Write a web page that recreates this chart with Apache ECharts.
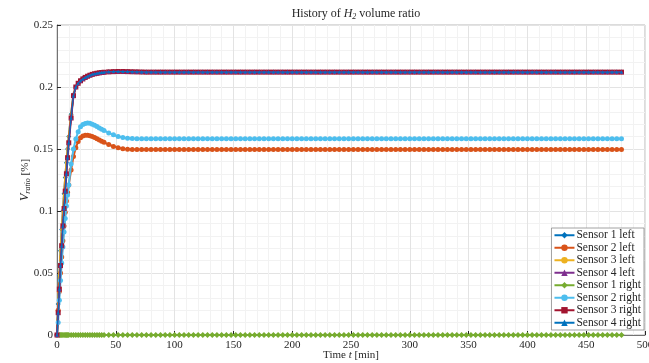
<!DOCTYPE html>
<html>
<head>
<meta charset="utf-8">
<script src="https://cdn.jsdelivr.net/npm/echarts@6/dist/echarts.min.js"></script>
<style>
  html, body { margin: 0; padding: 0; background: #fff; }
  #chart { width: 649px; height: 363px; }
</style>
</head>
<body>
<div id="chart"></div>
<script>
// time axis [min], dense at the start, every 4 min after 80
var riseTime = [0,1,2,3,4,5,6,7,8,9,10,12,14,16,18,20,22,24,26,28,30,32,34,36,38,40,44,48,52,56,60,64,68,72,76,80]
var tailTime = [84,88,92,96,100,104,108,112,116,120,124,128,132,136,140,144,148,152,156,160,
  164,168,172,176,180,184,188,192,196,200,204,208,212,216,220,224,228,232,236,240,
  244,248,252,256,260,264,268,272,276,280,284,288,292,296,300,304,308,312,316,320,
  324,328,332,336,340,344,348,352,356,360,364,368,372,376,380,384,388,392,396,400,
  404,408,412,416,420,424,428,432,436,440,444,448,452,456,460,464,468,472,476,480]

// rise part of each curve (same length as riseTime)
var upperRise = [0,0.018,0.037,0.056,0.072,0.088,0.102,0.116,0.13,0.143,0.155,0.175,0.193,0.2,0.203,0.205,0.2065,0.2077,0.2087,0.2095,
  0.2102,0.2107,0.2111,0.2114,0.2117,0.2119,0.2122,0.2124,0.2125,0.2125,0.2124,0.2123,0.2122,0.2121,0.212,0.212]
var upperFastRise = [0,0.025,0.048,0.068,0.085,0.1,0.114,0.127,0.139,0.15,0.16,0.178,0.194,0.2,0.203,0.2055,0.207,0.2079,0.2088,0.2095,
  0.2102,0.2107,0.2111,0.2114,0.2117,0.2119,0.2122,0.2124,0.2125,0.2125,0.2124,0.2123,0.2122,0.2121,0.212,0.212]
var orangeRise = [0,0.02,0.035,0.05,0.063,0.076,0.088,0.099,0.108,0.115,0.121,0.133,0.144,0.151,0.156,0.159,0.1605,0.161,0.161,0.1606,
  0.16,0.1592,0.1583,0.1573,0.1563,0.1554,0.1536,0.1521,0.151,0.1502,0.1497,0.1495,0.1495,0.1495,0.1495,0.1495]
var cyanRise = [0,0.01,0.028,0.044,0.058,0.071,0.083,0.094,0.104,0.113,0.121,0.138,0.15,0.158,0.164,0.168,0.1698,0.1706,0.171,0.1707,
  0.17,0.1691,0.1681,0.167,0.166,0.165,0.163,0.1614,0.1601,0.1592,0.1587,0.1584,0.1583,0.1582,0.1582,0.1582]
var greenRise = [null,null,0,0,0,0,0,0,0,0,0,0,0,0,0,0,0,0,0,0,0,0,0,0,0,0,0,0,0,0,0,0,0,0,0,0]

// plateau part (same length as tailTime)
var upperTail = [0.212,0.212,0.212,0.212,0.212,0.212,0.212,0.212,0.212,0.212,
  0.212,0.212,0.212,0.212,0.212,0.212,0.212,0.212,0.212,0.212,
  0.212,0.212,0.212,0.212,0.212,0.212,0.212,0.212,0.212,0.212,
  0.212,0.212,0.212,0.212,0.212,0.212,0.212,0.212,0.212,0.212,
  0.212,0.212,0.212,0.212,0.212,0.212,0.212,0.212,0.212,0.212,
  0.212,0.212,0.212,0.212,0.212,0.212,0.212,0.212,0.212,0.212,
  0.212,0.212,0.212,0.212,0.212,0.212,0.212,0.212,0.212,0.212,
  0.212,0.212,0.212,0.212,0.212,0.212,0.212,0.212,0.212,0.212,
  0.212,0.212,0.212,0.212,0.212,0.212,0.212,0.212,0.212,0.212,
  0.212,0.212,0.212,0.212,0.212,0.212,0.212,0.212,0.212,0.212]
var orangeTail = [0.1495,0.1495,0.1495,0.1495,0.1495,0.1495,0.1495,0.1495,0.1495,0.1495,
  0.1495,0.1495,0.1495,0.1495,0.1495,0.1495,0.1495,0.1495,0.1495,0.1495,
  0.1495,0.1495,0.1495,0.1495,0.1495,0.1495,0.1495,0.1495,0.1495,0.1495,
  0.1495,0.1495,0.1495,0.1495,0.1495,0.1495,0.1495,0.1495,0.1495,0.1495,
  0.1495,0.1495,0.1495,0.1495,0.1495,0.1495,0.1495,0.1495,0.1495,0.1495,
  0.1495,0.1495,0.1495,0.1495,0.1495,0.1495,0.1495,0.1495,0.1495,0.1495,
  0.1495,0.1495,0.1495,0.1495,0.1495,0.1495,0.1495,0.1495,0.1495,0.1495,
  0.1495,0.1495,0.1495,0.1495,0.1495,0.1495,0.1495,0.1495,0.1495,0.1495,
  0.1495,0.1495,0.1495,0.1495,0.1495,0.1495,0.1495,0.1495,0.1495,0.1495,
  0.1495,0.1495,0.1495,0.1495,0.1495,0.1495,0.1495,0.1495,0.1495,0.1495]
var cyanTail = [0.1582,0.1582,0.1582,0.1582,0.1582,0.1582,0.1582,0.1582,0.1582,0.1582,
  0.1582,0.1582,0.1582,0.1582,0.1582,0.1582,0.1582,0.1582,0.1582,0.1582,
  0.1582,0.1582,0.1582,0.1582,0.1582,0.1582,0.1582,0.1582,0.1582,0.1582,
  0.1582,0.1582,0.1582,0.1582,0.1582,0.1582,0.1582,0.1582,0.1582,0.1582,
  0.1582,0.1582,0.1582,0.1582,0.1582,0.1582,0.1582,0.1582,0.1582,0.1582,
  0.1582,0.1582,0.1582,0.1582,0.1582,0.1582,0.1582,0.1582,0.1582,0.1582,
  0.1582,0.1582,0.1582,0.1582,0.1582,0.1582,0.1582,0.1582,0.1582,0.1582,
  0.1582,0.1582,0.1582,0.1582,0.1582,0.1582,0.1582,0.1582,0.1582,0.1582,
  0.1582,0.1582,0.1582,0.1582,0.1582,0.1582,0.1582,0.1582,0.1582,0.1582,
  0.1582,0.1582,0.1582,0.1582,0.1582,0.1582,0.1582,0.1582,0.1582,0.1582]
var greenTail = [0,0,0,0,0,0,0,0,0,0, 0,0,0,0,0,0,0,0,0,0, 0,0,0,0,0,0,0,0,0,0, 0,0,0,0,0,0,0,0,0,0,
  0,0,0,0,0,0,0,0,0,0, 0,0,0,0,0,0,0,0,0,0, 0,0,0,0,0,0,0,0,0,0, 0,0,0,0,0,0,0,0,0,0,
  0,0,0,0,0,0,0,0,0,0, 0,0,0,0,0,0,0,0,0,0]

var sensorNames = ['Sensor 1 left', 'Sensor 2 left', 'Sensor 3 left', 'Sensor 4 left',
  'Sensor 1 right', 'Sensor 2 right', 'Sensor 3 right', 'Sensor 4 right']
var sensorColors = ['#0072BD', '#D95319', '#EDB120', '#7E2F8E', '#77AC30', '#4DBEEE', '#A2142F', '#0072BD']
var sensorSymbols = ['diamond', 'circle', 'circle', 'triangle', 'diamond', 'circle', 'rect', 'triangle']
var sensorSizes = [5, 5, 3, 4, 6, 5, 5, 3]
var sensorWidths = [2, 2, 2, 1.5, 2, 2, 2, 1]
var sensorZ = [2, 3, 4, 7, 5, 6, 6, 8]
var sensorCurves = [
  [upperFastRise, upperTail],
  [orangeRise, orangeTail],
  [upperFastRise, upperTail],
  [upperRise, upperTail],
  [greenRise, greenTail],
  [cyanRise, cyanTail],
  [upperRise, upperTail],
  [upperRise, upperTail]
]

var time = riseTime.concat(tailTime)
var serif = 'Liberation Serif'
var ink = '#262626'

function pairs(vals) {
  return time.map(function (t, i) { return [t, vals[i]] })
}

var series = sensorNames.map(function (name, k) {
  var vals = sensorCurves[k][0].concat(sensorCurves[k][1])
  return {
    name: name,
    type: 'line',
    data: pairs(vals),
    color: sensorColors[k],
    symbol: sensorSymbols[k],
    symbolSize: sensorSizes[k],
    showSymbol: true,
    showAllSymbol: true,
    connectNulls: false,
    lineStyle: { width: sensorWidths[k] },
    z: sensorZ[k]
  }
})

var chart = echarts.init(document.getElementById('chart'), null, { renderer: 'canvas' })
chart.setOption({
  animation: false,
  backgroundColor: '#fff',
  title: {
    text: 'History of {i|H}{s|2} volume ratio',
    left: 351,
    top: 2,
    textAlign: 'center',
    textStyle: {
      fontFamily: serif, fontSize: 12, fontWeight: 'normal', color: ink,
      rich: {
        i: { fontFamily: serif, fontSize: 12, fontStyle: 'italic', color: ink },
        s: { fontFamily: serif, fontSize: 8, fontStyle: 'italic', color: ink, verticalAlign: 'bottom', padding: [6, 0, 0, 0] }
      }
    }
  },
  grid: {
    left: 57, right: 4, top: 25, bottom: 28,
    outerBoundsMode: 'none',
    containLabel: false,
    show: true, borderColor: '#8c8c8c', borderWidth: 0.6
  },
  legend: {
    orient: 'vertical',
    right: 5,
    top: 228,
    itemGap: 0,
    itemWidth: 20,
    itemHeight: 8,
    padding: [1, 3, 1, 2],
    backgroundColor: '#fff',
    borderColor: '#8c8c8c',
    borderWidth: 0.8,
    borderRadius: 0,
    textStyle: { fontFamily: serif, fontSize: 11.5, lineHeight: 12.5, color: ink, padding: [0, 0, 0, -3] },
    data: sensorNames
  },
  xAxis: {
    type: 'value',
    min: 0, max: 500, interval: 50,
    minorTick: { show: true, splitNumber: 5, length: 0 },
    minorSplitLine: { show: true, lineStyle: { color: '#f2f2f2', width: 1 } },
    splitLine: { show: true, lineStyle: { color: '#e3e3e3', width: 1 } },
    axisLine: { show: true, lineStyle: { color: ink, width: 0.6 } },
    axisTick: { show: true, inside: true, length: 4, lineStyle: { color: ink } },
    axisLabel: { fontFamily: serif, fontSize: 11, color: ink, margin: 5, showMaxLabel: true },
    name: 'Time {i|t} [min]',
    nameLocation: 'middle',
    nameGap: 15,
    nameMoveOverlap: false,
    nameTextStyle: {
      fontFamily: serif, fontSize: 11, color: ink,
      rich: { i: { fontFamily: serif, fontSize: 11, fontStyle: 'italic', color: ink } }
    }
  },
  yAxis: {
    type: 'value',
    min: 0, max: 0.25, interval: 0.05,
    minorTick: { show: true, splitNumber: 5, length: 0 },
    minorSplitLine: { show: true, lineStyle: { color: '#f2f2f2', width: 1 } },
    splitLine: { show: true, lineStyle: { color: '#e3e3e3', width: 1 } },
    axisLine: { show: true, lineStyle: { color: ink, width: 0.6 } },
    axisTick: { show: true, inside: true, length: 4, lineStyle: { color: ink } },
    axisLabel: { fontFamily: serif, fontSize: 11, color: ink, margin: 4 },
    name: '{i|V}{s|ratio} [%]',
    nameLocation: 'middle',
    nameGap: 25,
    nameRotate: 90,
    nameMoveOverlap: false,
    nameTextStyle: {
      fontFamily: serif, fontSize: 11, color: ink,
      rich: {
        i: { fontFamily: serif, fontSize: 12, fontStyle: 'italic', color: ink },
        s: { fontFamily: serif, fontSize: 8, fontStyle: 'italic', color: ink, verticalAlign: 'bottom', padding: [6, 0, 0, 0] }
      }
    }
  },
  series: series
})
</script>
</body>
</html>
